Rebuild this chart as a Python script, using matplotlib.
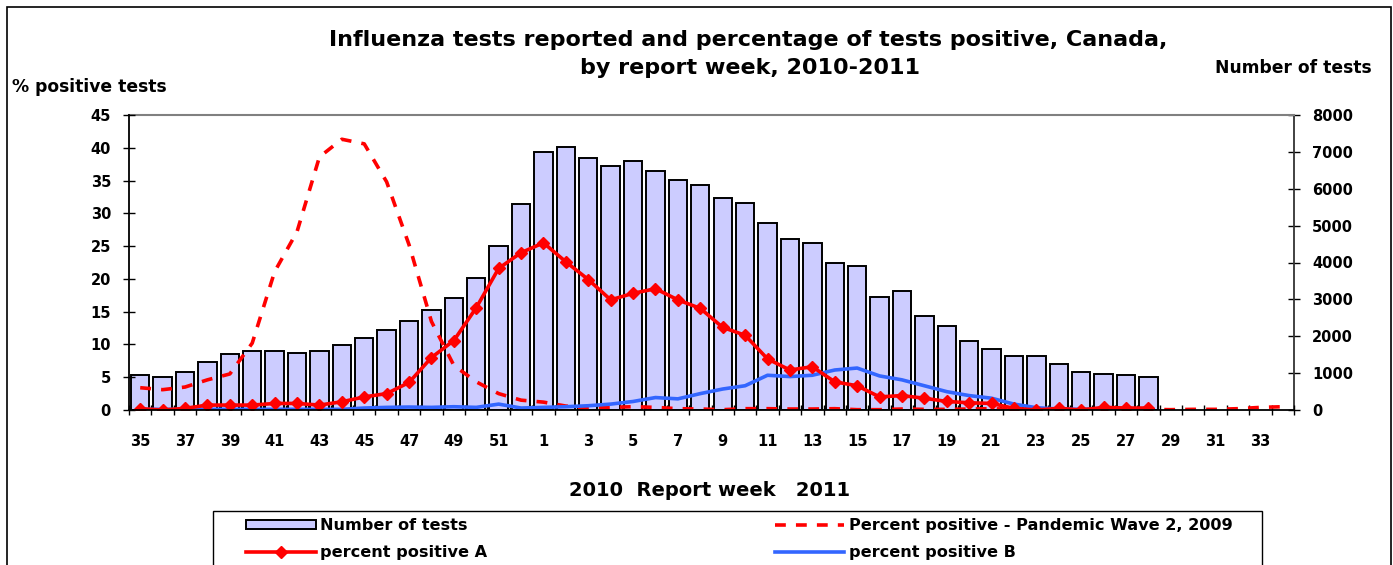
import matplotlib.pyplot as plt
import numpy as np
from matplotlib.lines import Line2D
from matplotlib.patches import Patch, Rectangle

plt.rcParams["font.family"] = ["DejaVu Sans"]
plt.rcParams["font.weight"] = "bold"

# report weeks: 35..52 of 2010, then 1..34 of 2011
weeks = list(range(35, 53)) + list(range(1, 35))

# number of tests (right axis), reported up to week 28
n_tests = [950, 905, 1040, 1290, 1510, 1600, 1600, 1555, 1600, 1770, 1940, 2160,
           2420, 2720, 3030, 3580, 4450, 5575,
           7000, 7135, 6830, 6615, 6750, 6485, 6225, 6090, 5745, 5620, 5060, 4625,
           4535, 3975, 3895, 3060, 3235, 2545, 2285, 1860, 1645, 1465, 1465, 1245,
           1030, 985, 950, 905]

# percent positive A, up to week 28
pct_a = [0.2, 0.0, 0.25, 0.75, 0.75, 0.75, 1.0, 1.0, 0.75, 1.25, 2.0, 2.5,
         4.2, 8.0, 10.6, 15.6, 21.6, 24.0,
         25.5, 22.6, 19.9, 16.8, 17.8, 18.5, 16.8, 15.5, 12.6, 11.4, 7.8, 6.1,
         6.6, 4.3, 3.7, 2.0, 2.2, 1.8, 1.3, 1.1, 1.0, 0.25, 0.0, 0.25,
         0.0, 0.4, 0.3, 0.3]

# percent positive B, up to week 28
pct_b = [0.1, 0.1, 0.1, 0.1, 0.1, 0.1, 0.1, 0.1, 0.1, 0.1, 0.3, 0.4,
         0.45, 0.4, 0.5, 0.4, 0.9, 0.3,
         0.4, 0.5, 0.65, 0.9, 1.3, 1.9, 1.7, 2.5, 3.2, 3.7, 5.3, 5.1,
         5.3, 6.1, 6.4, 5.2, 4.6, 3.7, 2.8, 2.2, 1.8, 0.9, 0.35, 0.15,
         0.1, 0.1, 0.1, 0.1]

# percent positive, pandemic wave 2 (2009), all 52 weeks
pct_pandemic = [3.4, 3.1, 3.5, 4.6, 5.5, 10.2, 21.1, 27.2, 38.6, 41.3, 40.6, 34.8,
                25.2, 13.5, 6.8, 4.3, 2.5, 1.5,
                1.2, 0.6, 0.3, 0.4, 0.5, 0.4, 0.2, 0.15, 0.05, 0.2, 0.2, 0.15,
                0.15, 0.2, 0.05, 0.05, 0.15, 0.1, 0.1, 0.15, 0.2, 0.1, 0.1, 0.15,
                0.1, 0.1, 0.1, 0.1, 0.05, 0.1, 0.1, 0.2, 0.4, 0.5]

RED = "#ff0000"
BLUE = "#3366ff"
BAR = "#ccccff"

W, H = 1393, 565
fig = plt.figure(figsize=(W / 100, H / 100), dpi=100)
# outer border of the chart area and the legend box (both run off the bottom edge)
fig.patches.append(Rectangle((7 / W, -0.1), (1391 - 7) / W, 1.1 - 7 / H,
                             transform=fig.transFigure, facecolor="none",
                             edgecolor="black", linewidth=1.2))
fig.patches.append(Rectangle((213 / W, -0.1), (1262 - 213) / W, 1.1 - 511 / H,
                             transform=fig.transFigure, facecolor="white",
                             edgecolor="black", linewidth=1.0))

ax = fig.add_axes([129 / W, 1 - 410 / H, (1294 - 129) / W, (410 - 115) / H])
ax2 = ax.twinx()

x = np.arange(len(weeks))
ax2.bar(x[:len(n_tests)], n_tests, width=0.82, color=BAR, edgecolor="black", linewidth=1.4)

dash = (0, (3, 2.8))
ax.plot(x, pct_pandemic, color=RED, linewidth=2.6, linestyle=dash)
ax.plot(x[:len(pct_b)], pct_b, color=BLUE, linewidth=2.6)
ax.plot(x[:len(pct_a)], pct_a, color=RED, linewidth=2.6, marker="D", markersize=6.5)

ax.set_zorder(ax2.get_zorder() + 1)
ax.patch.set_visible(False)

ax.set_xlim(-0.5, len(weeks) - 0.5)
ax.set_ylim(0, 45)
ax2.set_ylim(0, 8000)

ax.set_yticks(np.arange(0, 46, 5))
ax2.set_yticks(np.arange(0, 8001, 1000))
ax.set_xticks(x[::2])
ax.set_xticklabels([str(w) for w in weeks[::2]])
ax.set_xticks(np.arange(-0.5, len(weeks), 1), minor=True)

ax.tick_params(axis="x", which="major", length=0, pad=17, labelsize=10.5)
ax.tick_params(axis="x", which="minor", direction="inout", length=7, width=1)
ax.tick_params(axis="y", direction="inout", length=8, width=1, pad=9, labelsize=10.5)
ax2.tick_params(axis="y", direction="inout", length=8, width=1, pad=9, labelsize=10.5)

for s in ["top", "right"]:
    ax.spines[s].set_visible(False)
for s in ["left", "bottom"]:
    ax2.spines[s].set_visible(False)
ax2.spines["top"].set_color("#808080")
ax2.spines["top"].set_linewidth(1.5)
ax.spines["left"].set_linewidth(1.3)
ax.spines["bottom"].set_linewidth(1.3)
ax2.spines["right"].set_linewidth(1.3)
ax2.spines["right"].set_color("#333333")

fig.text(748 / W, 1 - 40 / H, "Influenza tests reported and percentage of tests positive, Canada,",
         ha="center", va="center", fontsize=16)
fig.text(750 / W, 1 - 68 / H, "by report week, 2010-2011",
         ha="center", va="center", fontsize=16)
fig.text(12 / W, 1 - 87 / H, "% positive tests", ha="left", va="center", fontsize=12.3)
fig.text(1372 / W, 1 - 68 / H, "Number of tests", ha="right", va="center", fontsize=12.3)
fig.text(710 / W, 1 - 491 / H, "2010  Report week   2011", ha="center", va="center",
         fontsize=14)

handles = [
    Patch(facecolor=BAR, edgecolor="black", linewidth=1.4, label="Number of tests"),
    Line2D([0], [0], color=RED, linewidth=2.6, marker="D", markersize=6.5,
           label="percent positive A"),
    Line2D([0], [0], color=RED, linewidth=2.6, linestyle=dash,
           label="Percent positive - Pandemic Wave 2, 2009"),
    Line2D([0], [0], color=BLUE, linewidth=2.6, label="percent positive B"),
]
fig.legend(handles=handles, ncol=2, loc="upper left",
           bbox_to_anchor=(243 / W, 1 - 515 / H - 0.01, (1236 - 243) / W, 0.01),
           mode="expand", frameon=False, fontsize=11.6, handlelength=4.3,
           handleheight=0.45, handletextpad=0.3, labelspacing=0.72,
           borderpad=0.2, borderaxespad=0)

fig.savefig("out.png", dpi=100, facecolor="white")
